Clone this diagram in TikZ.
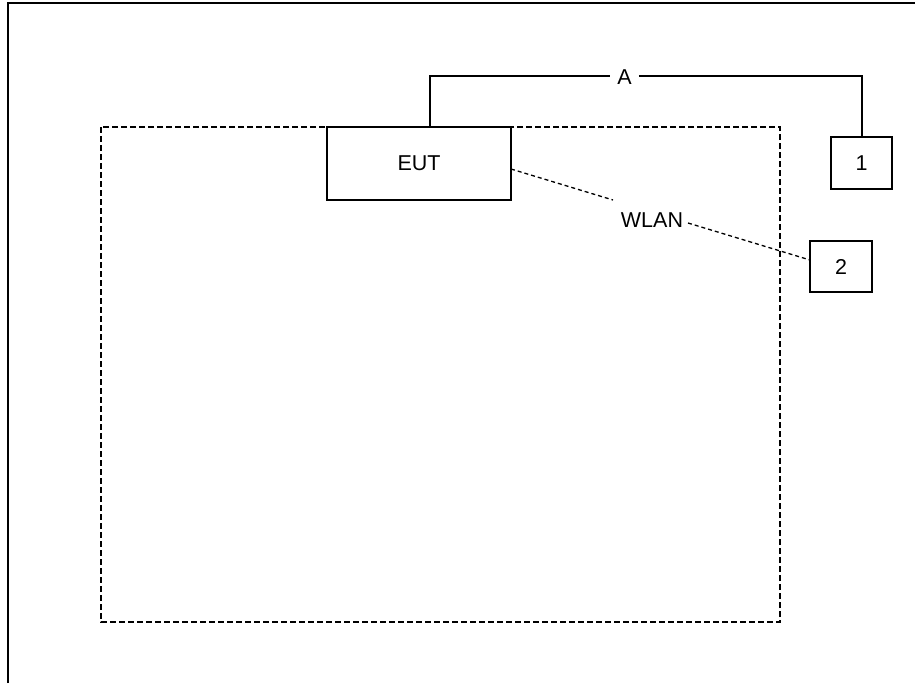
\documentclass[tikz,border=0pt]{standalone}
\usepackage{fontspec}
\setmainfont{Liberation Sans}
\begin{document}
\begin{tikzpicture}[x=1pt,y=-1pt,
  every node/.style={font=\fontsize{21.5}{25}\selectfont},
  box/.style={draw, line width=1.4pt, minimum width=#1, inner sep=0pt},
  frame/.style={line width=1.6pt},
  zone/.style={line width=1.3pt, dash pattern=on 6pt off 3pt},
  radio/.style={line width=1.3pt, dash pattern=on 4pt off 3pt}]
  \useasboundingbox (0,0) rectangle (915,683);
  % outer frame (open on the right and bottom)
  \draw[frame] (8,683) -- (8,3) -- (915,3);
  % test zone
  \draw[zone] (101,127) rectangle (780,622);
  % equipment and auxiliary units
  \node[box=184pt, minimum height=73pt] (eut) at (419,163.5) {EUT};
  \node[box=61pt, minimum height=52pt] (one) at (861.5,163) {1};
  \node[box=62pt, minimum height=51pt] (two) at (841,266.5) {2};
  % wired link A
  \node[inner xsep=7pt] (a) at (624.5,77) {A};
  \coordinate (aL) at (430,76);
  \coordinate (aR) at (862,76);
  \draw[line width=1.4pt] (eut.north -| aL) -- (aL) -- (a.west |- aL);
  \draw[line width=1.4pt] (a.east |- aR) -- (aR) -- (one.north -| aR);
  % wireless link
  \node[inner sep=1pt] (wlan) at (652,220) {WLAN};
  \coordinate (e1) at (511,169);
  \coordinate (e2) at (810,260);
  \draw[radio] (e1) -- (613,200);
  \draw[radio] (688,223) -- (e2);
\end{tikzpicture}
\end{document}
